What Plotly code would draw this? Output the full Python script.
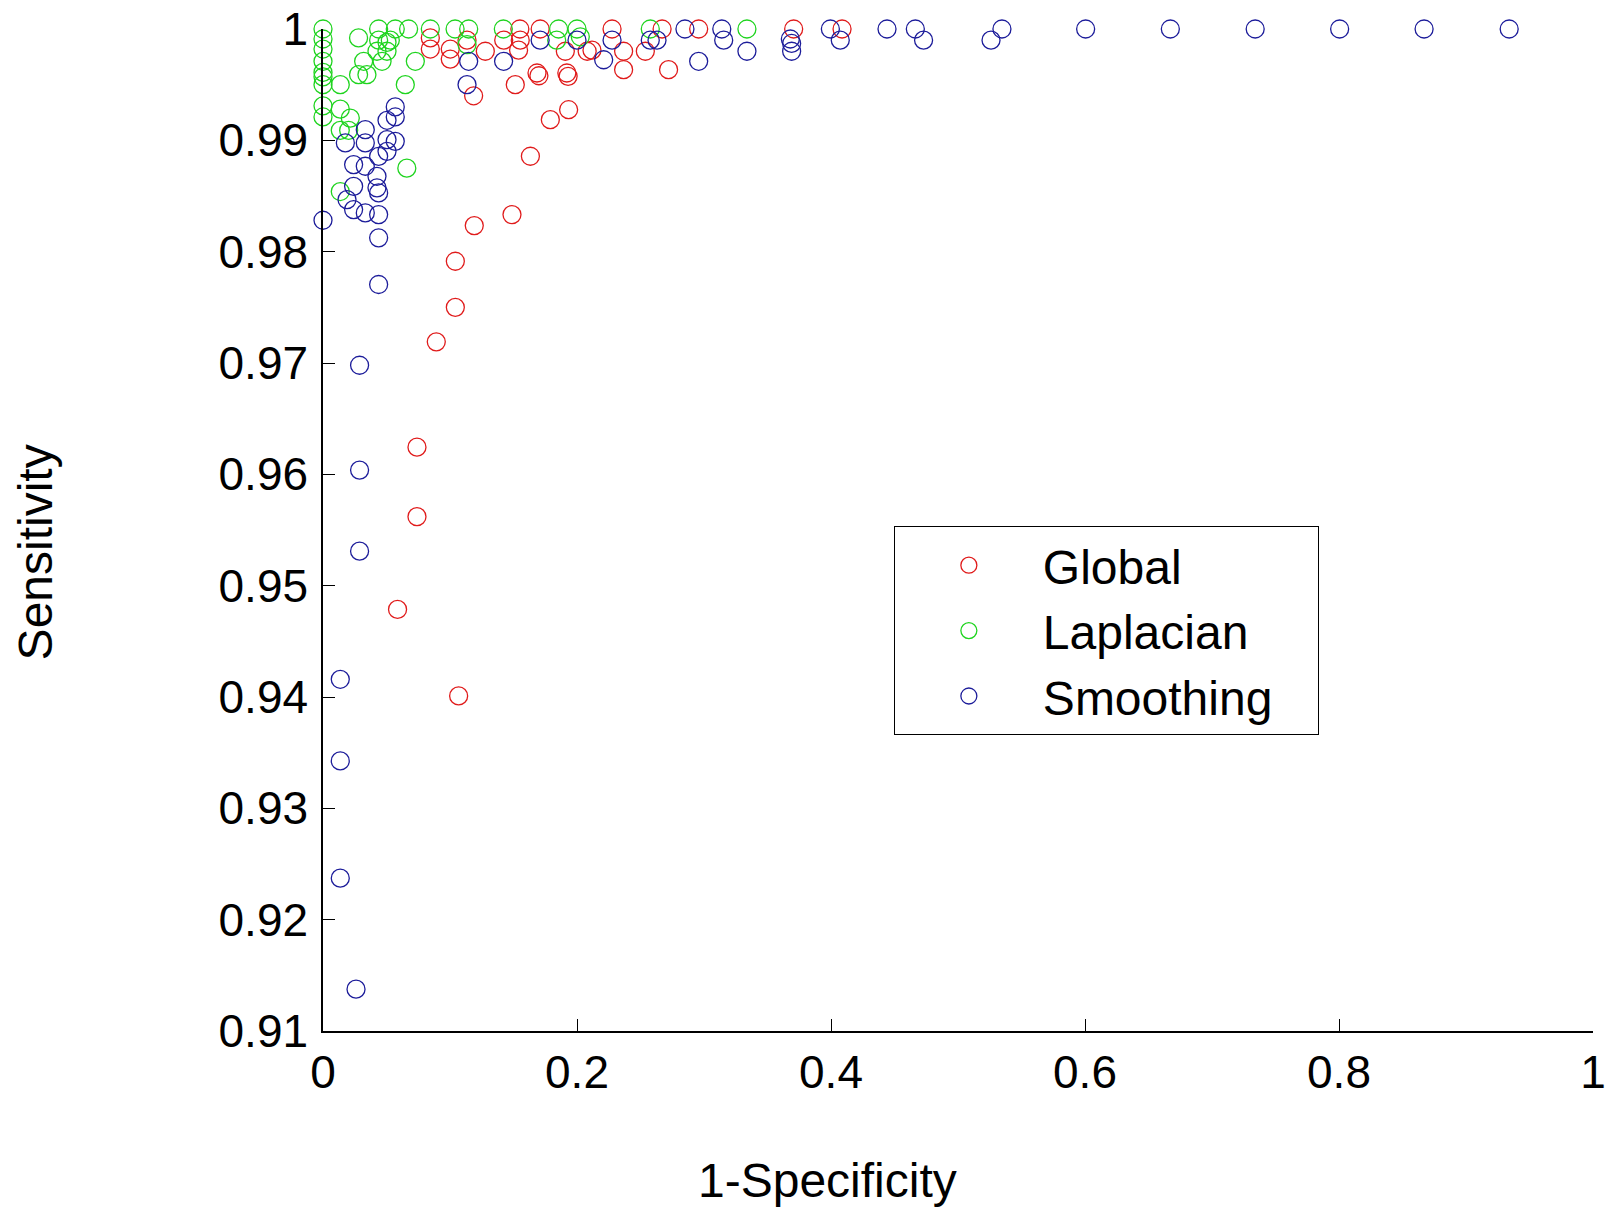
import plotly.graph_objects as go

# ---------------- data ----------------
global_x = [0.0845, 0.0845, 0.1002, 0.1002, 0.1134, 0.1278, 0.1423, 0.155, 0.171, 0.1553,
            0.154, 0.1908, 0.208, 0.1685, 0.170, 0.192, 0.193, 0.1514, 0.1186, 0.1934,
            0.179, 0.1633, 0.1488, 0.1191, 0.1042, 0.1042, 0.0892, 0.074, 0.074, 0.0587,
            0.1068, 0.2276, 0.267, 0.2958, 0.3706, 0.4087, 0.2118, 0.2367, 0.2538, 0.2367,
            0.2721]
global_y = [0.9992, 0.9982, 0.9982, 0.9973, 0.9990, 0.9980, 0.9990, 1.0, 1.0, 0.9990,
            0.9981, 0.9980, 0.9980, 0.99605, 0.9958, 0.99605, 0.99575, 0.9950, 0.9940, 0.99275,
            0.99186, 0.98857, 0.98333, 0.98234, 0.97914, 0.9750, 0.9719, 0.96244, 0.9562, 0.94787,
            0.9401, 1.0, 1.0, 1.0, 1.0, 1.0, 0.9981, 0.9980, 0.9980, 0.99635,
            0.99635]

laplacian_x = [0.0, 0.0, 0.0, 0.0, 0.0, 0.0, 0.0, 0.0, 0.0,
               0.0136, 0.0136, 0.0215, 0.0136, 0.0202, 0.028, 0.0438, 0.0569, 0.0674, 0.0438,
               0.0504, 0.053, 0.0425, 0.0504, 0.032, 0.0465, 0.028, 0.0346, 0.0648, 0.0727,
               0.066, 0.0136, 0.0845, 0.104, 0.1147, 0.1134, 0.142, 0.1855, 0.184, 0.20,
               0.2026, 0.2577, 0.3338]
laplacian_y = [1.0, 0.9991, 0.9982, 0.9971, 0.9961, 0.9957, 0.9950, 0.9931, 0.9921,
               0.9950, 0.9928, 0.9920, 0.9909, 0.9909, 0.9992, 1.0, 1.0, 1.0, 0.9990,
               0.9988, 0.9990, 0.9980, 0.9980, 0.9971, 0.9971, 0.9959, 0.9959, 0.9950, 0.9971,
               0.9875, 0.9854, 1.0, 1.0, 1.0, 0.9986, 1.0, 1.0, 0.9990, 1.0,
               0.9993, 1.0, 1.0]

smoothing_x = [0.0136, 0.0136, 0.0136, 0.026, 0.0288, 0.0288, 0.0288, 0.0438, 0.0438, 0.0,
               0.0438, 0.0333, 0.0241, 0.0189, 0.0438, 0.0425, 0.0241, 0.0425, 0.0241, 0.0333,
               0.0504, 0.0438, 0.0504, 0.0569, 0.0176, 0.0333, 0.0333, 0.0504, 0.0569, 0.0569,
               0.1147, 0.1134, 0.1422, 0.171, 0.20, 0.2276, 0.2577, 0.263, 0.3155, 0.368,
               0.369, 0.369, 0.4073, 0.221, 0.3338, 0.2958, 0.285, 0.314, 0.3995, 0.4441,
               0.4664, 0.4729, 0.5346, 0.526, 0.6005, 0.6672, 0.734, 0.8005, 0.867, 0.934]
smoothing_y = [0.94159, 0.93426, 0.92373, 0.91376, 0.96038, 0.9531, 0.9698, 0.97705, 0.98124, 0.98282,
               0.98333, 0.98348, 0.98378, 0.98468, 0.98528, 0.98573, 0.98587, 0.98677, 0.98782, 0.98767,
               0.98901, 0.98856, 0.99006, 0.98991, 0.98977, 0.98977, 0.99096, 0.9918, 0.9921, 0.9930,
               0.9971, 0.9950, 0.9971, 0.9990, 0.9990, 0.9990, 0.9990, 0.9990, 0.9990, 0.9991,
               0.9987, 0.9980, 0.9990, 0.99724, 0.9980, 0.9971, 1.0, 1.0, 1.0, 1.0,
               1.0, 0.9990, 1.0, 0.9990, 1.0, 1.0, 1.0, 1.0, 1.0, 1.0]

series_names = ["Global", "Laplacian", "Smoothing"]
series_colors = ["#e01b1b", "#1fd41f", "#1c1c9a"]

x_tickvals = [0, 0.2, 0.4, 0.6, 0.8, 1.0]
x_ticktext = ["0", "0.2", "0.4", "0.6", "0.8", "1"]
y_tickvals = [0.91, 0.92, 0.93, 0.94, 0.95, 0.96, 0.97, 0.98, 0.99, 1.0]
y_ticktext = ["0.91", "0.92", "0.93", "0.94", "0.95", "0.96", "0.97", "0.98", "0.99", "1"]

FONT = "Liberation Sans, Arial, sans-serif"

fig = go.Figure()
for name, color, xs, ys in zip(series_names, series_colors,
                               [global_x, laplacian_x, smoothing_x],
                               [global_y, laplacian_y, smoothing_y]):
    # trailing non-breaking spaces only widen the legend box (right padding)
    label = name + ("\u00a0\u00a0\u00a0" if name == "Smoothing" else "")
    fig.add_trace(go.Scatter(
        x=xs, y=ys, mode="markers", name=label, cliponaxis=False,
        marker=dict(symbol="circle-open", size=18, color=color, line=dict(width=1.3, color=color)),
    ))

axis_common = dict(showline=True, linecolor="black", linewidth=1.5, ticks="inside",
                   ticklen=12, tickwidth=1, tickcolor="black", showgrid=False, zeroline=False,
                   tickfont=dict(family=FONT, size=46, color="black"), mirror=False,
                   automargin=False)

fig.update_layout(
    width=1609, height=1211, autosize=False,
    margin=dict(l=323, r=16, t=29, b=180),
    paper_bgcolor="white", plot_bgcolor="white",
    font=dict(family=FONT, color="black"),
    xaxis=dict(range=[0, 1], tickvals=x_tickvals, ticktext=x_ticktext, **axis_common),
    yaxis=dict(range=[0.91, 1.0], tickvals=y_tickvals, ticktext=y_ticktext,
               ticklabelstandoff=4, **axis_common),
    legend=dict(x=0.4495, y=0.5035, xanchor="left", yanchor="top",
                bordercolor="black", borderwidth=1, bgcolor="white",
                font=dict(family=FONT, size=48, color="black"), itemwidth=138),
    showlegend=True,
    annotations=[
        dict(text="1-Specificity", xref="paper", yref="paper", x=0.397, y=-0.149,
             xanchor="center", yanchor="middle", showarrow=False,
             font=dict(family=FONT, size=48, color="black")),
        dict(text="Sensitivity", xref="paper", yref="paper", x=-0.2265, y=0.478,
             xanchor="center", yanchor="middle", showarrow=False, textangle=-90,
             font=dict(family=FONT, size=48, color="black")),
    ],
)

fig.write_html("out.html")
